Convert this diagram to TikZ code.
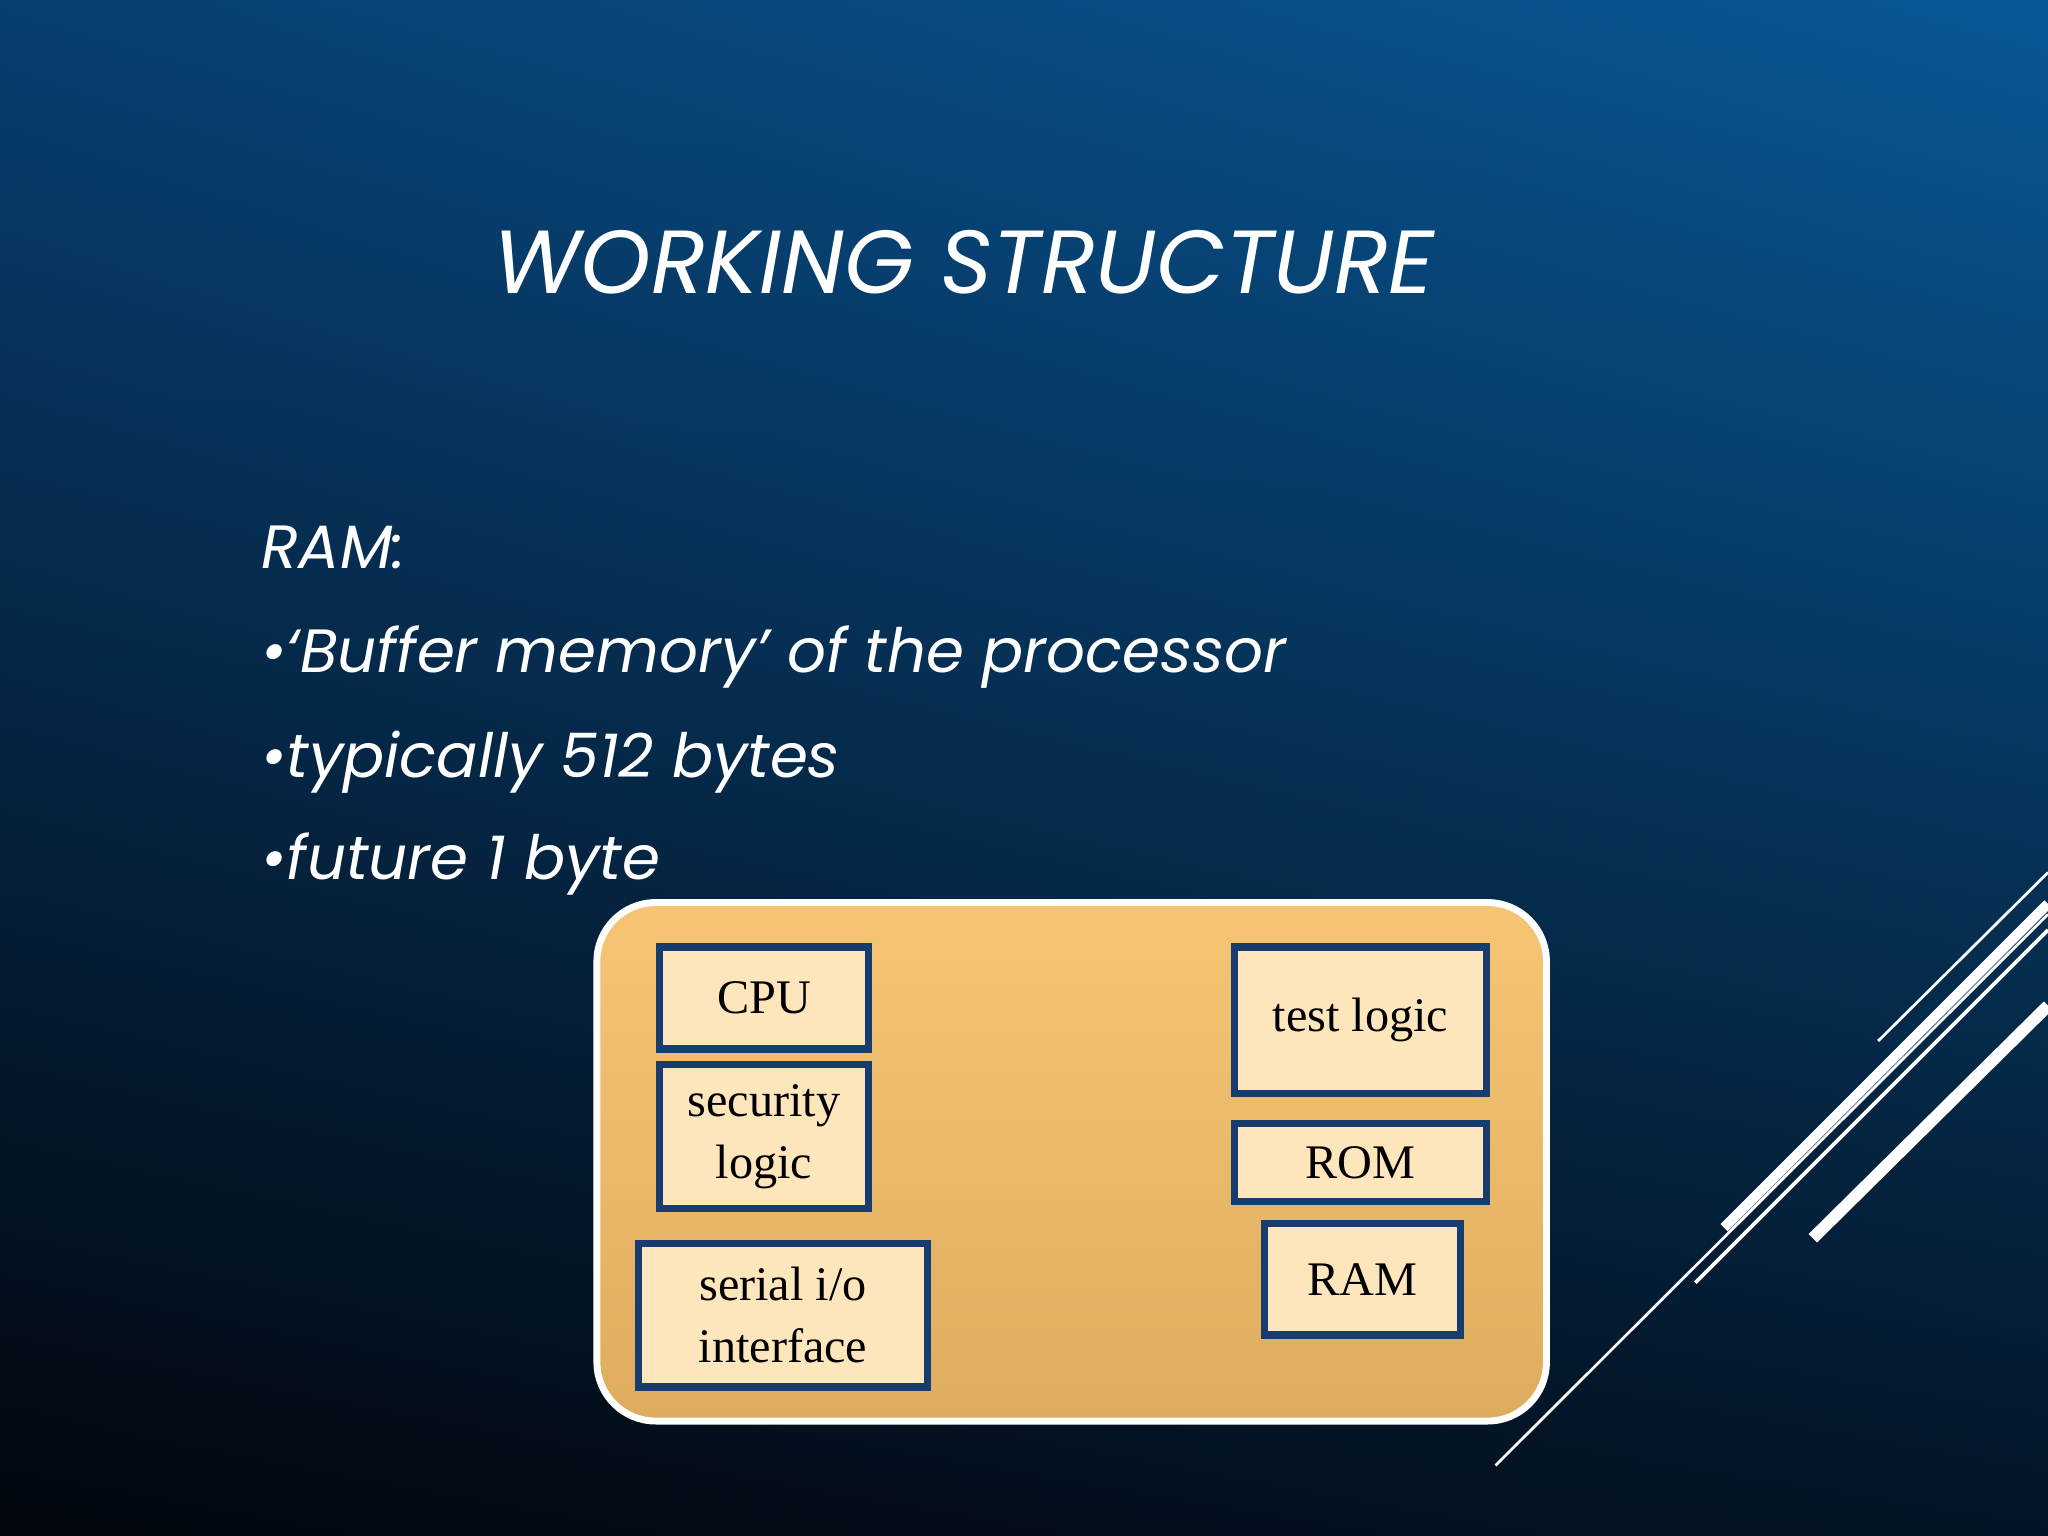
\documentclass[tikz,border=0pt]{standalone}
\usetikzlibrary{shadings}
\usepackage{fontspec}
\setmainfont{Liberation Serif}
\newfontfamily\gothic{Poppins}
\definecolor{ul}{RGB}{8,62,112}
\definecolor{ur}{RGB}{8,88,150}
\definecolor{ll}{RGB}{2,6,12}
\definecolor{lr}{RGB}{4,20,38}
\definecolor{boxfill}{RGB}{253,229,188}
\definecolor{boxline}{RGB}{25,60,110}
\definecolor{ptop}{RGB}{245,197,116}
\definecolor{pbot}{RGB}{222,172,94}
\begin{document}
\begin{tikzpicture}[x=0.01cm,y=-0.01cm,
  box/.style={draw=boxline, line width=1.6pt, fill=boxfill, align=center, inner sep=0pt, font=\fontsize{10.5}{13.5}\selectfont},
  slide/.style={text=white, anchor=base west, font=\gothic\itshape\fontsize{13.3}{16}\selectfont},
  deco/.style={white}]
\useasboundingbox (0,0) rectangle (1568,1176);
\shade[upper left=ul, upper right=ur, lower left=ll, lower right=lr] (0,0) rectangle (1568,1176);
\node[text=white, anchor=base, font=\gothic\itshape\fontsize{19.5}{22}\selectfont] (title) at (738,225) {WORKING STRUCTURE};
\node[slide] (t0) at (188,435) {RAM:};
\node[slide] (t1) at (188,515) {•‘Buffer memory’ of the processor};
\node[slide] (t2) at (188,595) {•typically 512 bytes};
\node[slide] (t3) at (188,673) {•future 1 byte};
\shade[top color=ptop, bottom color=pbot, rounded corners=0.45cm] (457,691) rectangle (1184,1088);
\draw[white, line width=1.5pt, rounded corners=0.45cm] (457,691) rectangle (1184,1088);
\node[box, minimum width=1.6cm, minimum height=0.78cm] (cpu) at (585,764) {CPU};
\node[box, minimum width=1.6cm, minimum height=1.1cm] (sec) at (585,870) {security\\logic};
\node[box, minimum width=2.21cm, minimum height=1.1cm] (ser) at (599.5,1007) {serial i/o\\interface};
\node[box, minimum width=1.93cm, minimum height=1.12cm] (test) at (1041.5,781) {\raisebox{-0.12cm}{test logic}};
\node[box, minimum width=1.93cm, minimum height=0.6cm] (rom) at (1041.5,890) {ROM};
\node[box, minimum width=1.5cm, minimum height=0.85cm] (ram) at (1043,979.5) {RAM};
\coordinate (a1) at (1438,797); \coordinate (a2) at (1568,668);
\coordinate (b1) at (1320,940); \coordinate (b2) at (1568,692);
\coordinate (c1) at (1298,982); \coordinate (c2) at (1568,712);
\coordinate (d1) at (1388,948); \coordinate (d2) at (1568,770);
\coordinate (e1) at (1145,1122); \coordinate (e2) at (1568,700);
\draw[deco, line width=0.6pt] (a1) -- (a2);
\draw[deco, line width=2.2pt] (b1) -- (b2);
\draw[deco, line width=0.8pt] (c1) -- (c2);
\draw[deco, line width=2.6pt] (d1) -- (d2);
\draw[deco, line width=0.6pt] (e1) -- (e2);
\end{tikzpicture}
\end{document}
